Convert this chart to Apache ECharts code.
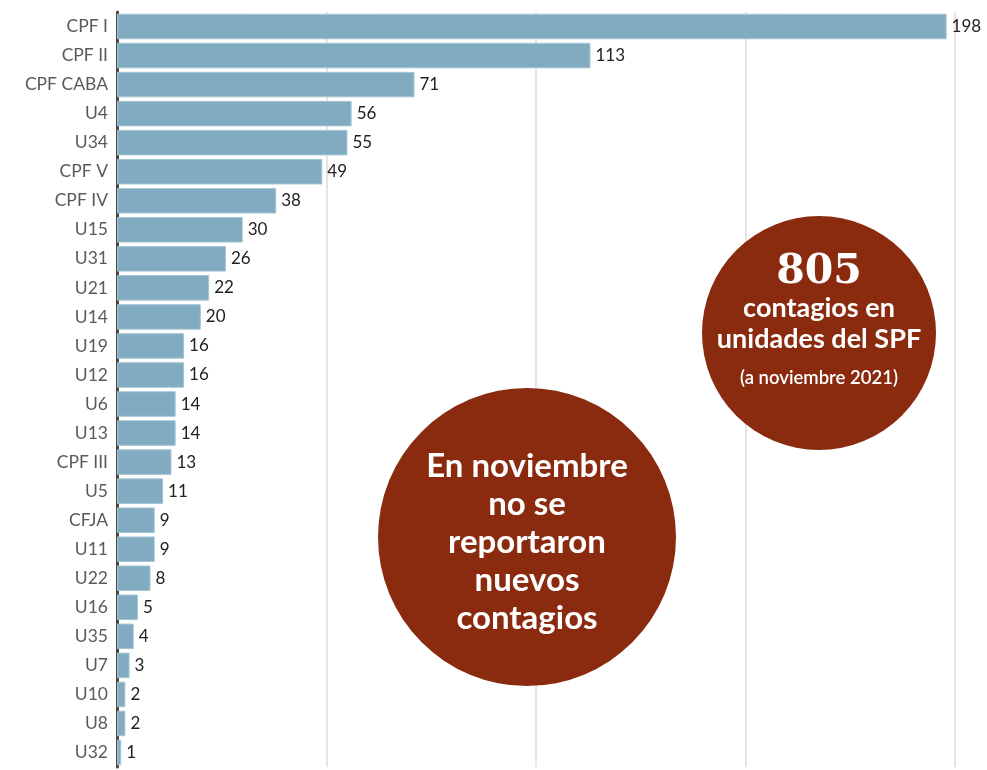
<!DOCTYPE html>
<html>
<head>
<meta charset="utf-8">
<script src="https://cdn.jsdelivr.net/npm/echarts@6/dist/echarts.min.js"></script>
<style>
html,body{margin:0;padding:0;background:#fff;}
#chart{width:987px;height:770px;}
</style>
</head>
<body>
<div id="chart"></div>
<script>
const categories = ["CPF I","CPF II","CPF CABA","U4","U34","CPF V","CPF IV","U15","U31","U21","U14","U19","U12","U6","U13","CPF III","U5","CFJA","U11","U22","U16","U35","U7","U10","U8","U32"];
const values = [198,113,71,56,55,49,38,30,26,22,20,16,16,14,14,13,11,9,9,8,5,4,3,2,2,1];
const xTicks = [0,50,100,150,200];
const bigCircleLines = ["En noviembre","no se","reportaron","nuevos","contagios"];
const totalText = "805";
const smallCircleLines = ["contagios en","unidades del SPF"];
const smallCircleNote = "(a noviembre 2021)";

const chart = echarts.init(document.getElementById('chart'));
const FONT = 'Lato';
chart.setOption({
  animation:false,
  grid:{left:117,right:32,top:12,bottom:3,containLabel:false},
  xAxis:{
    type:'value',min:xTicks[0],max:xTicks[xTicks.length-1],interval:xTicks[1]-xTicks[0],
    axisLabel:{show:false},
    axisLine:{show:false},axisTick:{show:false},
    splitLine:{show:true,lineStyle:{color:'#dcdcdc',width:1.5}}
  },
  yAxis:{
    type:'category',inverse:true,data:categories,
    axisLine:{show:true,lineStyle:{color:'#4d4540',width:3}},
    axisTick:{show:false},
    axisLabel:{color:'#5a5a5a',fontFamily:FONT,fontSize:17.5,margin:9}
  },
  series:[{
    type:'bar',data:values,barCategoryGap:'12%',
    itemStyle:{color:'#80abc0',borderColor:'#a6c6d5',borderWidth:1},
    label:{show:true,position:'right',distance:5,color:'#222',fontFamily:FONT,fontSize:17}
  }],
  graphic:[
    {type:'circle',shape:{cx:527,cy:537,r:149},style:{fill:'#8a2b10'},z:10},
    {type:'text',x:527,y:542,z:11,style:{
      text:bigCircleLines.join('\n'),fill:'#fff',fontFamily:FONT,fontWeight:'bold',
      fontSize:33,lineHeight:38,align:'center',verticalAlign:'middle'}},
    {type:'circle',shape:{cx:819,cy:333,r:117},style:{fill:'#8a2b10'},z:10},
    {type:'text',x:819,y:272,z:11,style:{
      text:totalText,fill:'#fff',fontFamily:'DejaVu Serif',fontWeight:'bold',
      fontSize:41,align:'center',verticalAlign:'middle'}},
    {type:'text',x:819,y:324,z:11,style:{
      text:smallCircleLines.join('\n'),fill:'#fff',fontFamily:FONT,fontWeight:'bold',
      fontSize:27,lineHeight:31,align:'center',verticalAlign:'middle'}},
    {type:'text',x:819,y:378,z:11,style:{
      text:smallCircleNote,fill:'#fff',fontFamily:FONT,fontWeight:600,
      fontSize:18.5,align:'center',verticalAlign:'middle'}}
  ]
});
</script>
</body>
</html>
